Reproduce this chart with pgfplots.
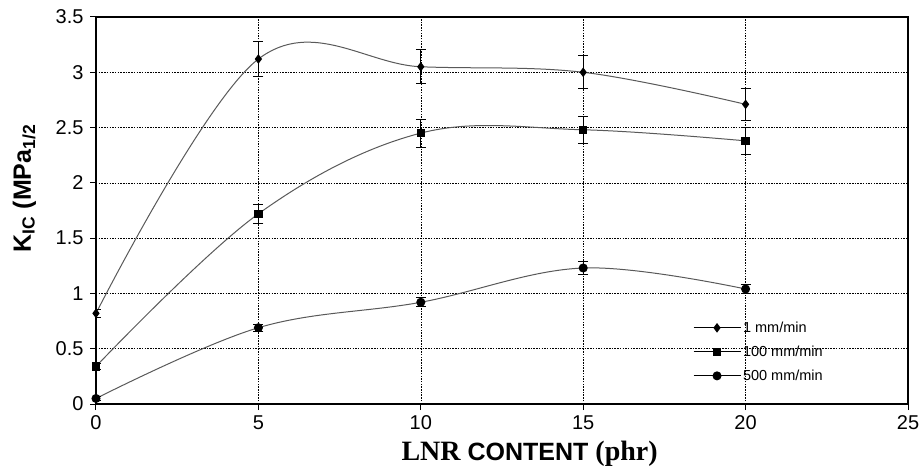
\documentclass[border=0pt]{standalone}
\usepackage{pgfplots}
\pgfplotsset{compat=1.18}
\usepackage{fontspec}
\setmainfont{Liberation Sans}
\newfontfamily\tnr{Liberation Serif}
\begin{document}
\begin{tikzpicture}
\path[use as bounding box] (-96pt,-62pt) rectangle (827pt,404pt);
\begin{axis}[
  at={(0pt,0pt)}, anchor=south west,
  scale only axis, width=812pt, height=387pt,
  xmin=0, xmax=25, ymin=0, ymax=3.5,
  xtick={0,5,10,15,20,25}, ytick={0,0.5,1,1.5,2,2.5,3,3.5},
  xtick pos=left, ytick pos=left,
  tick align=outside, major tick length=6pt,
  tick style={black, line width=1pt},
  axis line style={black, line width=2.5pt},
  grid=major,
  major grid style={black, line width=0.6pt, dash pattern=on 1.5pt off 1.2pt},
  /pgf/number format/assume math mode=true,
  ticklabel style={font=\fontsize{20}{20}\selectfont},
  yticklabel style={xshift=-3pt},
  xticklabel style={yshift=-2pt},
  xlabel={{\tnr\bfseries\fontsize{28}{28}\selectfont LNR }{\bfseries\fontsize{25}{25}\selectfont CONTENT }{\tnr\bfseries\fontsize{28}{28}\selectfont (phr)}},
  xlabel style={at={(axis description cs:0.534,0)}, anchor=base, yshift=-56pt},
  ylabel={\bfseries\fontsize{25}{25}\selectfont K\textsubscript{IC} (MPa\textsubscript{1/2}},
  ylabel style={at={(axis description cs:0,0.557)}, anchor=base, yshift=65pt},
  legend style={at={(0.735,0.218)}, anchor=north west, draw=none, fill=none, inner sep=0pt, row sep=8pt, font=\fontsize{14.5}{14.5}\selectfont, cells={anchor=west}},
  legend image code/.code={\draw[mark repeat=2,mark phase=2,#1, draw=black] plot coordinates {(0pt,0pt) (23.5pt,0pt) (47pt,0pt)};},
  every axis plot/.append style={line width=1pt, color=black!65},
  error bars/error bar style={black, line width=0.8pt, solid},
  error bars/error mark options={rotate=90, mark size=5pt, black, line width=0.8pt},
]
\addplot[smooth, tension=0.6, mark=diamond*, mark size=4pt, mark options={solid, fill=black, draw=black},
  error bars/.cd, y dir=both, y explicit]
  coordinates {(0,0.82) +- (0,0.04) (5,3.12) +- (0,0.155) (10,3.05) +- (0,0.155) (15,3.00) +- (0,0.15) (20,2.71) +- (0,0.145)};
\addlegendentry{1 mm/min}
\addplot[smooth, tension=0.6, mark=square*, mark size=3.7pt, mark options={solid, fill=black, draw=black},
  error bars/.cd, y dir=both, y explicit]
  coordinates {(0,0.34) +- (0,0.03) (5,1.72) +- (0,0.085) (10,2.45) +- (0,0.125) (15,2.48) +- (0,0.125) (20,2.38) +- (0,0.12)};
\addlegendentry{100 mm/min}
\addplot[smooth, tension=0.6, mark=*, mark size=4pt, mark options={solid, fill=black, draw=black},
  error bars/.cd, y dir=both, y explicit]
  coordinates {(0,0.05) +- (0,0.02) (5,0.69) +- (0,0.03) (10,0.92) +- (0,0.04) (15,1.23) +- (0,0.06) (20,1.04) +- (0,0.04)};
\addlegendentry{500 mm/min}
\end{axis}
\end{tikzpicture}
\end{document}
